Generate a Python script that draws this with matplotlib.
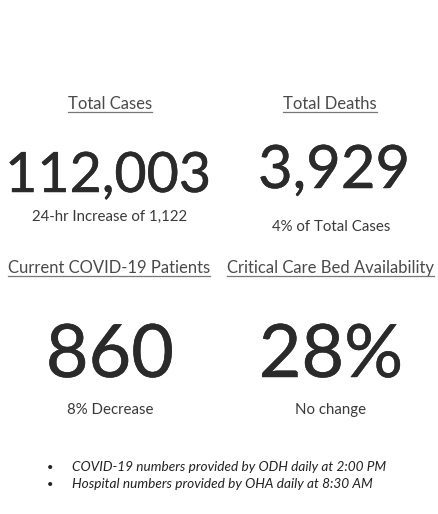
import matplotlib.pyplot as plt
import matplotlib.patheffects as pe
from matplotlib.lines import Line2D

plt.rcParams['font.family'] = ['Lato', 'DejaVu Sans']

# tile contents
headers = ["Total Cases", "Total Deaths", "Current COVID-19 Patients", "Critical Care Bed Availability"]
values = ["112,003", "3,929", "860", "28%"]
notes = ["24-hr Increase of 1,122", "4% of Total Cases", "8% Decrease", "No change"]
footnotes = ["COVID-19 numbers provided by ODH daily at 2:00 PM",
             "Hospital numbers provided by OHA daily at 8:30 AM"]

W, H = 439, 514
fig = plt.figure(figsize=(W / 100, H / 100), dpi=100)
fig.patch.set_facecolor('white')


def put(x, y, s, **kw):
    # pixel coords from the top-left corner
    return fig.text(x / W, 1 - y / H, s, **kw)


# layout per tile (pixels)
head_xy = [(110, 109), (330, 109), (109, 273), (331, 273)]
val_xy = [(108, 192), (334, 188), (110, 377), (331, 377)]
val_size = [40, 43, 53, 53]
note_xy = [(110, 221), (331, 231), (110, 414), (331, 414)]

# a touch heavier, the original face is a bit bolder than Lato regular
thick = [pe.withStroke(linewidth=0.35, foreground='#2a2a2a')]

head_objs = []
for i in range(4):
    t = put(*head_xy[i], headers[i], ha='center', va='baseline',
            fontsize=12, color='#4a4a4a')
    head_objs.append((t, head_xy[i][1]))
    put(*val_xy[i], values[i], ha='center', va='baseline',
        fontsize=val_size[i], color='#2a2a2a', path_effects=thick)
    put(*note_xy[i], notes[i], ha='center', va='baseline',
        fontsize=10.8, color='#3a3a3a')

for k, line in enumerate(footnotes):
    y = 471 + 17 * k
    put(50, y, "\u2022", ha='center', va='baseline', fontsize=8, color='#222222')
    put(72, y, line, ha='left', va='baseline', fontsize=9.8, style='italic',
        color='#222222')

# underline the headers
fig.canvas.draw()
r = fig.canvas.get_renderer()
for t, yb in head_objs:
    bb = t.get_window_extent(r)
    yu = 1 - (yb + 3) / H
    fig.add_artist(Line2D([bb.x0 / W, bb.x1 / W], [yu, yu], color='#777777',
                          linewidth=0.9, transform=fig.transFigure))

fig.savefig("out.png", dpi=100, facecolor='white')
